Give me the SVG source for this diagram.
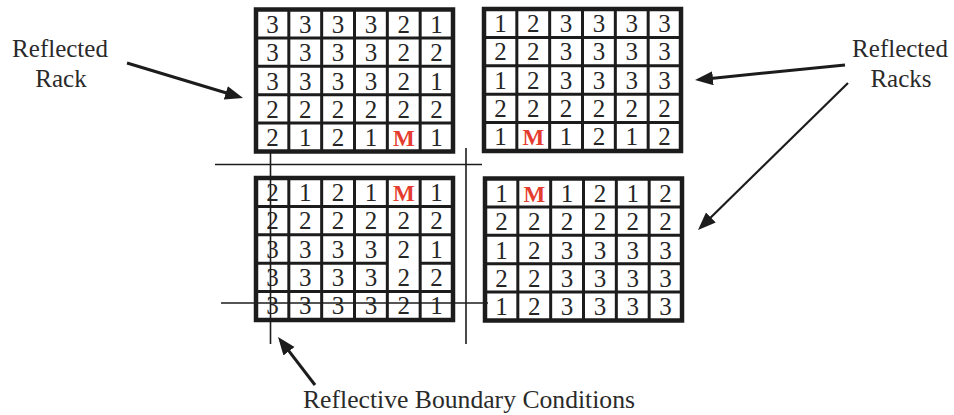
<svg xmlns="http://www.w3.org/2000/svg" width="954" height="415" viewBox="0 0 954 415">
<style>
.outer{fill:#fff;stroke:#1c1c1c;stroke-width:4.5}
.grid{fill:none;stroke:#1c1c1c;stroke-width:3}
.d{font-family:"Liberation Serif","Times New Roman",serif;font-size:25px;fill:#252525;text-anchor:middle}
.m{font-family:"Liberation Serif","Times New Roman",serif;font-size:23px;font-weight:bold;fill:#e53c30;text-anchor:middle}
.lbl{font-family:"Liberation Serif","Times New Roman",serif;font-size:25px;fill:#2a2a2a;text-anchor:middle}
.bnd{stroke:#1c1c1c;stroke-width:1.6;fill:none}
.arr{stroke:#1c1c1c;stroke-width:3;fill:none;marker-end:url(#ah)}
</style>
<defs>
<marker id="ah" markerUnits="userSpaceOnUse" markerWidth="20" markerHeight="16" refX="12" refY="7" orient="auto">
<path d="M0,0 L18,7 L0,14 z" fill="#1c1c1c"/>
</marker>
</defs>
<rect width="954" height="415" fill="#fff"/>

<g id="rack-top-left" transform="translate(256,9.5)">
<rect class="outer" width="197" height="142"/>
<path class="grid" d="M32.83,0V142M65.67,0V142M98.5,0V142M131.33,0V142M164.17,0V142M0,28.4H197M0,56.8H197M0,85.2H197M0,113.6H197"/>
<text class="d" x="16.4" y="23">3</text><text class="d" x="49.3" y="23">3</text><text class="d" x="82.1" y="23">3</text><text class="d" x="114.9" y="23">3</text><text class="d" x="147.8" y="23">2</text><text class="d" x="180.6" y="23">1</text>
<text class="d" x="16.4" y="51">3</text><text class="d" x="49.3" y="51">3</text><text class="d" x="82.1" y="51">3</text><text class="d" x="114.9" y="51">3</text><text class="d" x="147.8" y="51">2</text><text class="d" x="180.6" y="51">2</text>
<text class="d" x="16.4" y="80">3</text><text class="d" x="49.3" y="80">3</text><text class="d" x="82.1" y="80">3</text><text class="d" x="114.9" y="80">3</text><text class="d" x="147.8" y="80">2</text><text class="d" x="180.6" y="80">1</text>
<text class="d" x="16.4" y="108">2</text><text class="d" x="49.3" y="108">2</text><text class="d" x="82.1" y="108">2</text><text class="d" x="114.9" y="108">2</text><text class="d" x="147.8" y="108">2</text><text class="d" x="180.6" y="108">2</text>
<text class="d" x="16.4" y="136">2</text><text class="d" x="49.3" y="136">1</text><text class="d" x="82.1" y="136">2</text><text class="d" x="114.9" y="136">1</text><text class="m" x="147.8" y="136">M</text><text class="d" x="180.6" y="136">1</text>
</g>

<g id="rack-top-right" transform="translate(484,9)">
<rect class="outer" width="197" height="142"/>
<path class="grid" d="M32.83,0V142M65.67,0V142M98.5,0V142M131.33,0V142M164.17,0V142M0,28.4H197M0,56.8H197M0,85.2H197M0,113.6H197"/>
<text class="d" x="16.4" y="23">1</text><text class="d" x="49.3" y="23">2</text><text class="d" x="82.1" y="23">3</text><text class="d" x="114.9" y="23">3</text><text class="d" x="147.8" y="23">3</text><text class="d" x="180.6" y="23">3</text>
<text class="d" x="16.4" y="51">2</text><text class="d" x="49.3" y="51">2</text><text class="d" x="82.1" y="51">3</text><text class="d" x="114.9" y="51">3</text><text class="d" x="147.8" y="51">3</text><text class="d" x="180.6" y="51">3</text>
<text class="d" x="16.4" y="80">1</text><text class="d" x="49.3" y="80">2</text><text class="d" x="82.1" y="80">3</text><text class="d" x="114.9" y="80">3</text><text class="d" x="147.8" y="80">3</text><text class="d" x="180.6" y="80">3</text>
<text class="d" x="16.4" y="108">2</text><text class="d" x="49.3" y="108">2</text><text class="d" x="82.1" y="108">2</text><text class="d" x="114.9" y="108">2</text><text class="d" x="147.8" y="108">2</text><text class="d" x="180.6" y="108">2</text>
<text class="d" x="16.4" y="136">1</text><text class="m" x="49.3" y="136">M</text><text class="d" x="82.1" y="136">1</text><text class="d" x="114.9" y="136">2</text><text class="d" x="147.8" y="136">1</text><text class="d" x="180.6" y="136">2</text>
</g>

<g id="rack-bottom-left" transform="translate(256,178)">
<rect class="outer" width="197" height="142"/>
<path class="grid" d="M32.83,0V142M65.67,0V142M98.5,0V142M131.33,0V142M164.17,0V142M0,28.4H197M0,56.8H197M0,85.2H131.33M164.17,85.2H197M0,113.6H197"/>
<text class="d" x="16.4" y="23">2</text><text class="d" x="49.3" y="23">1</text><text class="d" x="82.1" y="23">2</text><text class="d" x="114.9" y="23">1</text><text class="m" x="147.8" y="23">M</text><text class="d" x="180.6" y="23">1</text>
<text class="d" x="16.4" y="51">2</text><text class="d" x="49.3" y="51">2</text><text class="d" x="82.1" y="51">2</text><text class="d" x="114.9" y="51">2</text><text class="d" x="147.8" y="51">2</text><text class="d" x="180.6" y="51">2</text>
<text class="d" x="16.4" y="80">3</text><text class="d" x="49.3" y="80">3</text><text class="d" x="82.1" y="80">3</text><text class="d" x="114.9" y="80">3</text><text class="d" x="147.8" y="80">2</text><text class="d" x="180.6" y="80">1</text>
<text class="d" x="16.4" y="108">3</text><text class="d" x="49.3" y="108">3</text><text class="d" x="82.1" y="108">3</text><text class="d" x="114.9" y="108">3</text><text class="d" x="147.8" y="108">2</text><text class="d" x="180.6" y="108">2</text>
<text class="d" x="16.4" y="136">3</text><text class="d" x="49.3" y="136">3</text><text class="d" x="82.1" y="136">3</text><text class="d" x="114.9" y="136">3</text><text class="d" x="147.8" y="136">2</text><text class="d" x="180.6" y="136">1</text>
</g>

<g id="rack-bottom-right" transform="translate(485,178.5)">
<rect class="outer" width="197" height="142"/>
<path class="grid" d="M32.83,0V142M65.67,0V142M98.5,0V142M131.33,0V142M164.17,0V142M0,28.4H197M0,56.8H197M0,85.2H197M0,113.6H197"/>
<text class="d" x="16.4" y="23">1</text><text class="m" x="49.3" y="23">M</text><text class="d" x="82.1" y="23">1</text><text class="d" x="114.9" y="23">2</text><text class="d" x="147.8" y="23">1</text><text class="d" x="180.6" y="23">2</text>
<text class="d" x="16.4" y="51">2</text><text class="d" x="49.3" y="51">2</text><text class="d" x="82.1" y="51">2</text><text class="d" x="114.9" y="51">2</text><text class="d" x="147.8" y="51">2</text><text class="d" x="180.6" y="51">2</text>
<text class="d" x="16.4" y="80">1</text><text class="d" x="49.3" y="80">2</text><text class="d" x="82.1" y="80">3</text><text class="d" x="114.9" y="80">3</text><text class="d" x="147.8" y="80">3</text><text class="d" x="180.6" y="80">3</text>
<text class="d" x="16.4" y="108">2</text><text class="d" x="49.3" y="108">2</text><text class="d" x="82.1" y="108">3</text><text class="d" x="114.9" y="108">3</text><text class="d" x="147.8" y="108">3</text><text class="d" x="180.6" y="108">3</text>
<text class="d" x="16.4" y="136">1</text><text class="d" x="49.3" y="136">2</text><text class="d" x="82.1" y="136">3</text><text class="d" x="114.9" y="136">3</text><text class="d" x="147.8" y="136">3</text><text class="d" x="180.6" y="136">3</text>
</g>

<g id="label-reflected-rack">
<text class="lbl" x="60" y="57">Reflected</text>
<text class="lbl" x="61" y="87">Rack</text>
</g>
<g id="label-reflected-racks">
<text class="lbl" x="900" y="57">Reflected</text>
<text class="lbl" x="901" y="87">Racks</text>
</g>
<g id="label-boundary">
<text class="lbl" x="469" y="408" textLength="332" lengthAdjust="spacingAndGlyphs">Reflective Boundary Conditions</text>
</g>

<g id="boundaries">
<path class="bnd" d="M215,164.5H482"/>
<path class="bnd" d="M221,303H488"/>
<path class="bnd" d="M270.5,152V344"/>
<path class="bnd" d="M466,148V344"/>
</g>

<g id="connectors">
<path class="arr" d="M127,63L237.3,96.3"/>
<path class="arr" d="M845,65L701,79.4"/>
<path class="arr" style="stroke-width:2.2" d="M848,83L702.3,225.8"/>
<path class="arr" d="M315,385L281.7,341.7"/>
</g>
</svg>
